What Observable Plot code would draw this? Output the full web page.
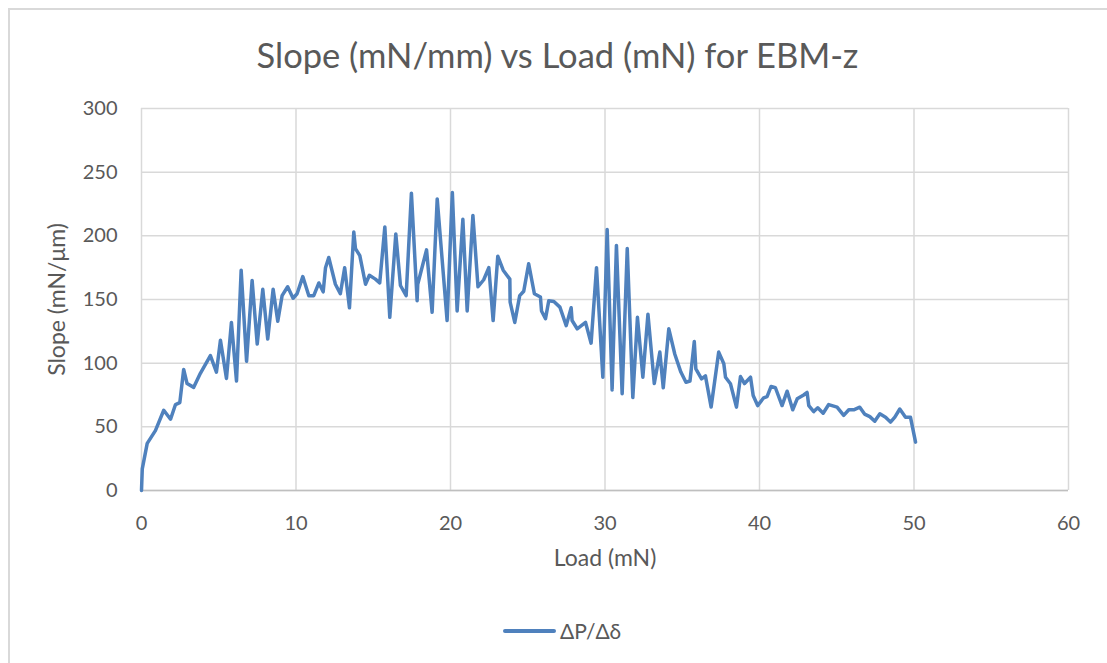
<!DOCTYPE html>
<html>
<head>
<meta charset="utf-8">
<script src="https://cdn.jsdelivr.net/npm/d3@7"></script>
<script src="https://cdn.jsdelivr.net/npm/@observablehq/plot@0.6"></script>
<style>
  html, body { margin: 0; padding: 0; background: #ffffff; }
  body { width: 1107px; height: 663px; position: relative; overflow: hidden; font-family: Lato, "Noto Sans", sans-serif; }
  #area { position: absolute; left: 8px; top: 8px; right: -4px; bottom: -4px; border-left: 2px solid #d9d9d9; border-top: 2px solid #d9d9d9; }
  #title { position: absolute; left: 8px; width: 1099px; top: 35px; text-align: center; font-size: 34.5px; color: #595959; line-height: 40px; }
  #plot { position: absolute; left: 0; top: 0; }
  #plot g[aria-label="x-axis label"] text, #plot g[aria-label="y-axis label"] text { font-size: 23px; }
  #legend { position: absolute; top: 616px; left: 0; width: 1107px; height: 30px; }
  #legend .key { position: absolute; left: 503px; top: 13px; width: 53px; height: 3.5px; border-radius: 2px; }
  #legend .txt { position: absolute; left: 560px; top: 1px; font-size: 21px; color: #595959; line-height: 28px; }
</style>
</head>
<body>
<div id="area"></div>
<div id="title"></div>
<div id="plot"></div>
<div id="legend"><div class="key"></div><div class="txt"></div></div>
<script>
// Load (mN) readings and the matching slope ΔP/Δδ (mN/μm)
const load = [
  0, 0.05, 0.37, 0.9, 1.44, 1.88, 2.2, 2.48, 2.73, 2.95,
  3.38, 3.81, 4.46, 4.85, 5.11, 5.5, 5.82, 6.15, 6.45, 6.8,
  7.16, 7.49, 7.85, 8.17, 8.52, 8.82, 9.1, 9.46, 9.81, 10.07,
  10.44, 10.83, 11.15, 11.48, 11.76, 11.91, 12.12, 12.55, 12.87, 13.15,
  13.46, 13.74, 13.85, 14.13, 14.5, 14.75, 15.14, 15.42, 15.75, 16.07,
  16.46, 16.76, 17.13, 17.47, 17.84, 17.88, 18.45, 18.81, 19.14, 19.78,
  20.12, 20.43, 20.8, 21.08, 21.45, 21.78, 22.15, 22.48, 22.76, 23.06,
  23.41, 23.84, 23.86, 24.16, 24.48, 24.74, 25.06, 25.43, 25.82, 25.89,
  26.15, 26.36, 26.69, 27.08, 27.49, 27.81, 27.87, 28.2, 28.74, 29.1,
  29.45, 29.86, 30.14, 30.46, 30.74, 31.11, 31.44, 31.8, 32.1, 32.45,
  32.78, 33.19, 33.55, 33.77, 34.13, 34.52, 34.91, 35.24, 35.5, 35.78,
  35.88, 36.25, 36.5, 36.87, 37.36, 37.69, 37.8, 38.12, 38.51, 38.77,
  39.03, 39.42, 39.59, 39.88, 40.27, 40.49, 40.75, 41.03, 41.46, 41.79,
  42.15, 42.44, 42.86, 43.08, 43.19, 43.51, 43.77, 44.12, 44.48, 45.02,
  45.45, 45.78, 46.1, 46.49, 46.8, 47.14, 47.46, 47.79, 48.16, 48.48,
  48.76, 49.08, 49.45, 49.77, 50.1
];
const slope = [
  0, 17, 37, 47, 63, 56, 67.5, 69, 95, 84,
  81, 92, 106, 93, 118, 88, 132, 86, 173, 101.5,
  165, 115, 158, 119, 158, 133, 153, 160, 151, 154.5,
  168, 153, 153, 163, 156, 175, 183, 162, 154.5, 175,
  143.5, 203, 190, 184.5, 162, 169, 166, 163, 207, 136,
  201.5, 161, 153, 233.5, 149, 162, 189, 140, 229, 133.5,
  234, 141, 213, 141, 216, 160, 165.5, 175, 133.5, 184,
  173, 166, 148, 132, 153, 156.5, 178, 154.5, 152, 141,
  135, 149, 148.5, 144, 129.5, 143.5, 133.5, 127, 132, 115.7,
  175, 89, 205, 79, 192.5, 76, 190, 73, 136, 89,
  138.5, 84, 108.7, 80.7, 127, 107, 93, 85, 86, 117,
  95.5, 87.7, 90, 65.5, 108.7, 99.5, 89, 83.8, 65.5, 89.5,
  84, 89, 74.6, 66.7, 72.8, 73.8, 81.7, 80.7, 66.7, 78,
  63.4, 72, 75, 77, 66.7, 62, 65, 60.7, 67.5, 65.5,
  59, 63.4, 63.4, 65.4, 60, 58, 54.4, 60.2, 57.6, 53.7,
  57.6, 64, 57.6, 57.6, 38
];
const xTicks = [0, 10, 20, 30, 40, 50, 60];
const yTicks = [0, 50, 100, 150, 200, 250, 300];
const seriesName = "ΔP/Δδ";
const titleText = "Slope (mN/mm) vs Load (mN) for EBM-z";
const xTitle = "Load (mN)";
const yTitle = "Slope (mN/μm)";

const lineColor = "#4f81bd";
const gridColor = "#d9d9d9";
const textColor = "#595959";

const rows = load.map((x, i) => ({x, y: slope[i]}));

const chart = Plot.plot({
  width: 1107,
  height: 600,
  marginTop: 108,
  marginBottom: 110,
  marginLeft: 141,
  marginRight: 39,
  style: {fontFamily: "Lato, 'Noto Sans', sans-serif", fontSize: "20px", color: textColor, background: "transparent"},
  x: {domain: [0, 60]},
  y: {domain: [0, 300]},
  marks: [
    Plot.gridX(xTicks, {stroke: gridColor, strokeOpacity: 1, strokeWidth: 1.5}),
    Plot.gridY(yTicks, {stroke: gridColor, strokeOpacity: 1, strokeWidth: 1.5}),
    Plot.ruleY([0], {stroke: "#bfbfbf", strokeWidth: 1.5}),
    Plot.axisX(xTicks, {tickSize: 0, tickPadding: 25, fill: textColor, label: xTitle, labelAnchor: "center", labelArrow: "none", labelOffset: 75}),
    Plot.axisY(yTicks, {tickSize: 0, tickPadding: 24, fill: textColor, label: yTitle, labelAnchor: "center", labelArrow: "none", labelOffset: 93}),
    Plot.line(rows, {x: "x", y: "y", stroke: lineColor, strokeWidth: 3.5, strokeLinejoin: "round", strokeLinecap: "round"})
  ]
});
document.getElementById("plot").appendChild(chart);
document.getElementById("title").textContent = titleText;
document.querySelector("#legend .key").style.background = lineColor;
document.querySelector("#legend .txt").textContent = seriesName;
</script>
</body>
</html>
